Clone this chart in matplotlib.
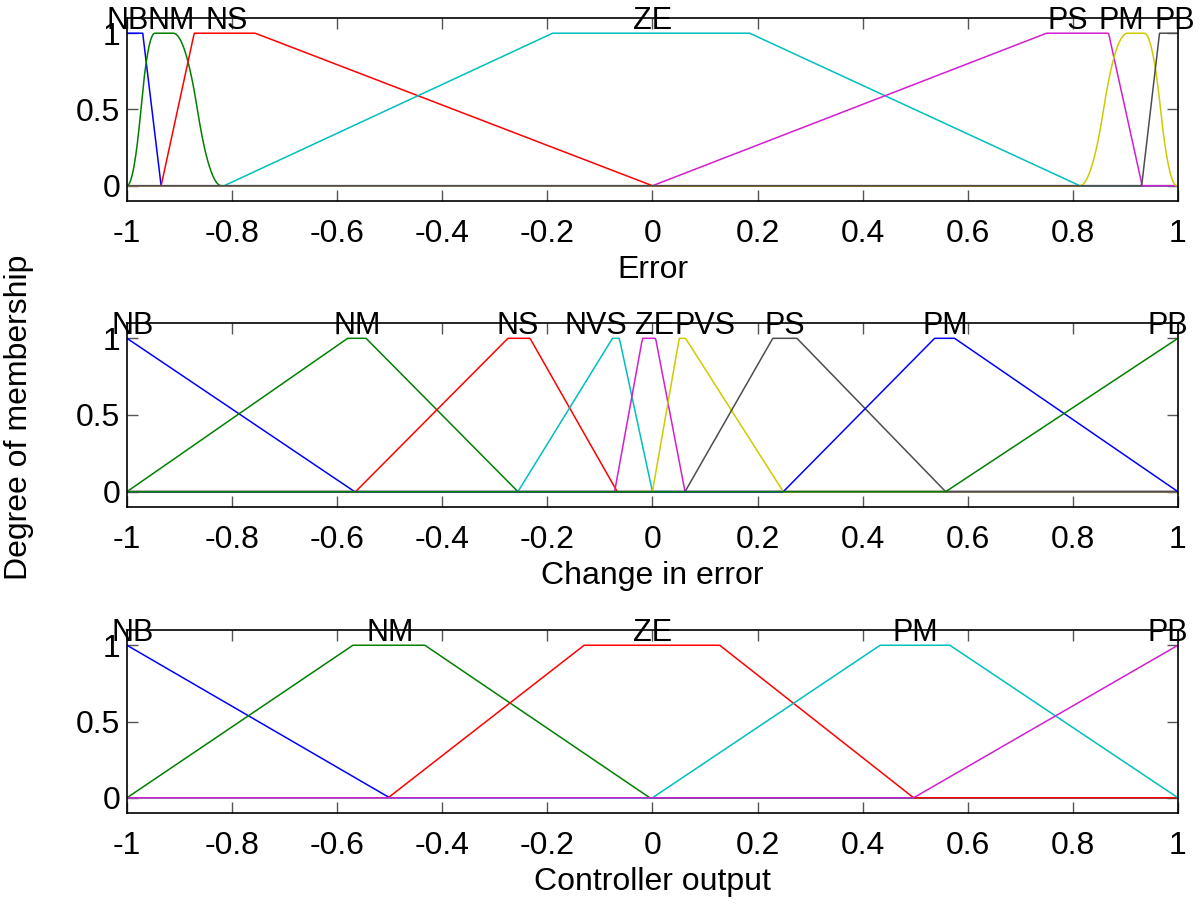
import numpy as np
import matplotlib
matplotlib.use("Agg")
import matplotlib.pyplot as plt

plt.rcParams['font.family'] = ['Liberation Sans', 'DejaVu Sans']

# ---------------- data ----------------
err_names = ['NB', 'NM', 'NS', 'ZE', 'PS', 'PM', 'PB']
err_kinds = ['trap', 'pi', 'trap', 'trap', 'trap', 'pi', 'trap']
err_params = [[-1.5, -1.0, -0.97, -0.935],
              [-1.0, -0.947, -0.912, -0.82],
              [-0.935, -0.872, -0.756, 0.0],
              [-0.815, -0.19, 0.185, 0.813],
              [0.0, 0.75, 0.868, 0.932],
              [0.813, 0.904, 0.936, 0.998],
              [0.931, 0.965, 1.0, 1.5]]
err_label_x = [-0.998, -0.915, -0.81, 0.0, 0.79, 0.893, 0.994]

chg_names = ['NB', 'NM', 'NS', 'NVS', 'ZE', 'PVS', 'PS', 'PM', 'PB']
chg_kinds = ['trap'] * 9
chg_params = [[-1.5, -1.0, -1.0, -0.567],
              [-1.0, -0.58, -0.545, -0.256],
              [-0.565, -0.275, -0.233, -0.067],
              [-0.256, -0.076, -0.063, 0.0],
              [-0.072, -0.019, 0.006, 0.062],
              [0.0, 0.051, 0.063, 0.249],
              [0.062, 0.229, 0.275, 0.558],
              [0.249, 0.537, 0.575, 1.0],
              [0.558, 1.0, 1.0, 1.5]]
chg_label_x = [-0.99, -0.562, -0.256, -0.108, 0.004, 0.10, 0.252, 0.557, 0.98]

out_names = ['NB', 'NM', 'ZE', 'PM', 'PB']
out_kinds = ['trap'] * 5
out_params = [[-1.5, -1.0, -1.0, -0.5],
              [-1.0, -0.57, -0.433, -0.005],
              [-0.503, -0.13, 0.128, 0.497],
              [0.0, 0.433, 0.566, 1.0],
              [0.497, 1.0, 1.0, 1.5]]
out_label_x = [-0.99, -0.50, 0.0, 0.50, 0.98]

xlabels = ['Error', 'Change in error', 'Controller output']
xtick_vals = [-1, -0.8, -0.6, -0.4, -0.2, 0, 0.2, 0.4, 0.6, 0.8, 1]
xtick_labels = ['-1', '-0.8', '-0.6', '-0.4', '-0.2', '0', '0.2', '0.4', '0.6', '0.8', '1']
ytick_vals = [0, 0.5, 1]
ytick_labels = ['0', '0.5', '1']

# MATLAB classic colour order
colors = [(0, 0, 1), (0, 0.5, 0), (1, 0, 0), (0, 0.75, 0.75),
          (0.82, 0.12, 0.82), (0.8, 0.8, 0), (0.3, 0.3, 0.3)]


def trapmf(x, p):
    a, b, c, d = p
    y = np.ones_like(x)
    if b > a:
        y = np.where(x < b, (x - a) / (b - a), y)
    else:
        y = np.where(x < a, 0.0, y)
    if d > c:
        y = np.where(x > c, (d - x) / (d - c), y)
    else:
        y = np.where(x > d, 0.0, y)
    return np.clip(y, 0, 1)


def smf(x, a, b):
    m = (a + b) / 2
    y = np.zeros_like(x)
    y = np.where((x > a) & (x <= m), 2 * ((x - a) / (b - a)) ** 2, y)
    y = np.where((x > m) & (x < b), 1 - 2 * ((x - b) / (b - a)) ** 2, y)
    y = np.where(x >= b, 1.0, y)
    return y


def pimf(x, p):
    a, b, c, d = p
    return smf(x, a, b) * (1 - smf(x, c, d))


def mf(x, kind, p):
    return pimf(x, p) if kind == 'pi' else trapmf(x, p)


x = np.linspace(-1, 1, 1201)

fig = plt.figure(figsize=(12, 9.07), dpi=100)
fs = 23
fs_mf = 22
rects = [[0.1058, 0.7784, 0.8758, 0.2018],
         [0.1058, 0.4410, 0.8758, 0.2029],
         [0.1058, 0.1036, 0.8758, 0.2018]]
panels = [(err_names, err_kinds, err_params, err_label_x),
          (chg_names, chg_kinds, chg_params, chg_label_x),
          (out_names, out_kinds, out_params, out_label_x)]

for i, (rect, (names, kinds, params, lx)) in enumerate(zip(rects, panels)):
    ax = fig.add_axes(rect)
    for j, (k, p) in enumerate(zip(kinds, params)):
        ax.plot(x, mf(x, k, p), color=colors[j % 7], lw=1.1)
    for name, xx in zip(names, lx):
        ax.text(xx, 1.03, name, ha='center', va='baseline', fontsize=fs_mf,
                clip_on=False, zorder=5)
    ax.set_xlim(-1, 1)
    ax.set_ylim(-0.1, 1.1)
    ax.set_xticks(xtick_vals)
    ax.set_xticklabels(xtick_labels)
    ax.set_yticks(ytick_vals)
    ax.set_yticklabels(ytick_labels)
    ax.tick_params(direction='in', length=8, width=1.0, color='#555555',
                   labelsize=fs, top=True, right=True)
    ax.tick_params(axis='x', pad=13)
    ax.tick_params(axis='y', pad=5)
    for s in ax.spines.values():
        s.set_linewidth(1.2)
        s.set_color('black')
    ax.set_xlabel(xlabels[i], fontsize=fs, labelpad=4)

fig.text(0.016, 0.54, 'Degree of membership', rotation=90, fontsize=fs,
         ha='center', va='center')

fig.savefig('out.png', dpi=100)
